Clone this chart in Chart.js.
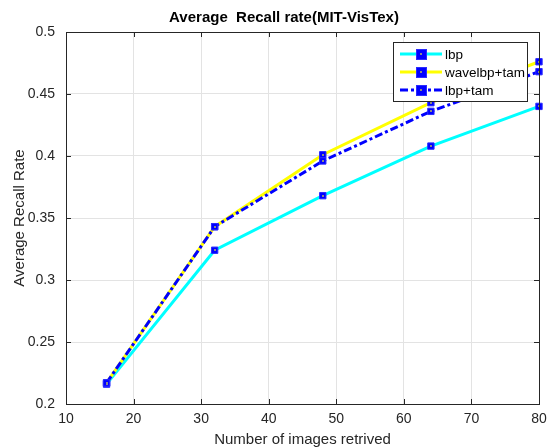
<!DOCTYPE html>
<html>
<head>
<meta charset="utf-8">
<script src="https://cdn.jsdelivr.net/npm/chart.js@4.4.0/dist/chart.umd.min.js"></script>
<style>
html,body{margin:0;padding:0;background:#fff;}
#wrap{width:548px;height:447px;}
</style>
</head>
<body>
<div id="wrap"><canvas id="c" width="548" height="447"></canvas></div>
<script>
// ---- data ----
const categories = [16, 32, 48, 64, 80];
const seriesNames = ['lbp', 'wavelbp+tam', 'lbp+tam'];
const lbp = [0.216, 0.324, 0.368, 0.408, 0.440];
const wavelbpTam = [0.217, 0.343, 0.401, 0.443, 0.476];
const lbpTam = [0.217, 0.343, 0.396, 0.436, 0.468];
const xTicks = [10, 20, 30, 40, 50, 60, 70, 80];
const xTickLabels = ['10', '20', '30', '40', '50', '60', '70', '80'];
const yTicks = [0.2, 0.25, 0.3, 0.35, 0.4, 0.45, 0.5];
const yTickLabels = ['0.2', '0.25', '0.3', '0.35', '0.4', '0.45', '0.5'];
const titleText = 'Average  Recall rate(MIT-VisTex)';
const xTitle = 'Number of images retrived';
const yTitle = 'Average Recall Rate';

const FONT = '"Liberation Sans", Arial, Helvetica, sans-serif';
const AXC = '#262626';
const colors = ['#00ffff', '#ffff00', '#0000ff'];
const dashes = [[], [], [8, 3, 3, 3]];

function pts(vals) { return categories.map((x, i) => ({x: x, y: vals[i]})); }
const seriesVals = [lbp, wavelbpTam, lbpTam];

const datasets = seriesVals.map((v, i) => ({
  label: seriesNames[i],
  data: pts(v),
  borderColor: colors[i],
  borderWidth: 3,
  borderDash: dashes[i],
  pointStyle: 'rect',
  pointRadius: 4.5,
  pointBackgroundColor: '#0000ff',
  pointBorderColor: '#2b2bff',
  pointBorderWidth: 1,
  tension: 0,
  fill: false,
  clip: 6,
  order: 3 - i
}));

const decor = {
  id: 'decor',
  afterDatasetsDraw(chart) {
    const ctx = chart.ctx;
    ctx.save();
    ctx.fillStyle = '#8a8a8a';
    chart.data.datasets.forEach((d, i) => {
      chart.getDatasetMeta(i).data.forEach(el => {
        ctx.fillRect(Math.round(el.x) - 1, Math.round(el.y) - 1, 2, 2);
      });
    });
    ctx.restore();
  },
  afterDraw(chart) {
    const ctx = chart.ctx;
    const a = chart.chartArea;
    const xs = chart.scales.x, ys = chart.scales.y;
    ctx.save();
    // box
    ctx.strokeStyle = AXC;
    ctx.lineWidth = 1;
    ctx.strokeRect(Math.round(a.left) + 0.5, Math.round(a.top) + 0.5, Math.round(a.right - a.left), Math.round(a.bottom - a.top));
    // inward ticks
    ctx.beginPath();
    xTicks.forEach(v => {
      const px = Math.round(xs.getPixelForValue(v)) + 0.5;
      ctx.moveTo(px, a.bottom); ctx.lineTo(px, a.bottom - 5);
      ctx.moveTo(px, a.top); ctx.lineTo(px, a.top + 5);
    });
    yTicks.forEach(v => {
      const py = Math.round(ys.getPixelForValue(v)) + 0.5;
      ctx.moveTo(a.left, py); ctx.lineTo(a.left + 5, py);
      ctx.moveTo(a.right, py); ctx.lineTo(a.right - 5, py);
    });
    ctx.stroke();
    // title
    ctx.fillStyle = '#000';
    ctx.font = 'bold 15px ' + FONT;
    ctx.textAlign = 'center';
    ctx.textBaseline = 'middle';
    ctx.fillText(titleText, 284, 18);
    // legend
    const L = 393, T = 42, R = 527, B = 101;
    ctx.fillStyle = '#fff';
    ctx.fillRect(L, T, R - L, B - T);
    ctx.strokeStyle = AXC;
    ctx.strokeRect(L + 0.5, T + 0.5, R - L, B - T);
    const rows = [54, 72, 90];
    seriesNames.forEach((name, i) => {
      const y = rows[i];
      ctx.strokeStyle = colors[i];
      ctx.lineWidth = 3;
      ctx.setLineDash(dashes[i]);
      ctx.beginPath();
      ctx.moveTo(400, y); ctx.lineTo(442, y);
      ctx.stroke();
      ctx.setLineDash([]);
      ctx.fillStyle = '#0000ff';
      ctx.fillRect(417, y - 4, 9, 9);
      ctx.strokeStyle = '#2b2bff';
      ctx.lineWidth = 1;
      ctx.strokeRect(416.5, y - 4.5, 10, 10);
      ctx.fillStyle = '#8a8a8a';
      ctx.fillRect(420, y - 1, 2, 2);
      ctx.fillStyle = '#000';
      ctx.font = '13.5px ' + FONT;
      ctx.textAlign = 'left';
      ctx.textBaseline = 'middle';
      ctx.fillText(name, 445, y + 1);
    });
    ctx.restore();
  }
};

new Chart(document.getElementById('c'), {
  type: 'line',
  data: { datasets: datasets },
  plugins: [decor],
  options: {
    responsive: false,
    animation: false,
    devicePixelRatio: 1,
    layout: { padding: { top: 32, right: 9, left: 0, bottom: 0 } },
    plugins: { legend: { display: false }, title: { display: false }, tooltip: { enabled: false } },
    scales: {
      x: {
        type: 'linear', min: 10, max: 80,
        afterBuildTicks: s => { s.ticks = xTicks.map(v => ({value: v})); },
        afterFit: s => { s.height = 43; s.paddingLeft = 0; s.paddingRight = 0; },
        grid: { color: '#e3e3e3', drawTicks: false },
        border: { display: false },
        ticks: { padding: 7, color: AXC, font: { family: FONT, size: 14 },
          maxRotation: 0, autoSkip: false,
          callback: (v) => { const i = xTicks.indexOf(v); return i >= 0 ? xTickLabels[i] : ''; } },
        title: { display: true, text: xTitle, color: AXC, font: { family: FONT, size: 15, lineHeight: 1 }, padding: { top: 0, bottom: 0 } }
      },
      y: {
        type: 'linear', min: 0.2, max: 0.5,
        afterBuildTicks: s => { s.ticks = yTicks.map(v => ({value: v})); },
        afterFit: s => { s.width = 66; s.paddingTop = 0; s.paddingBottom = 0; },
        grid: { color: '#e3e3e3', drawTicks: false },
        border: { display: false },
        ticks: { padding: 11, color: AXC, font: { family: FONT, size: 14 }, autoSkip: false,
          callback: (v) => { const i = yTicks.findIndex(t => Math.abs(t - v) < 1e-9); return i >= 0 ? yTickLabels[i] : ''; } },
        title: { display: true, text: yTitle, color: AXC, font: { family: FONT, size: 15, lineHeight: 1 }, padding: { top: 12, bottom: 0 } }
      }
    }
  }
});
</script>
</body>
</html>
